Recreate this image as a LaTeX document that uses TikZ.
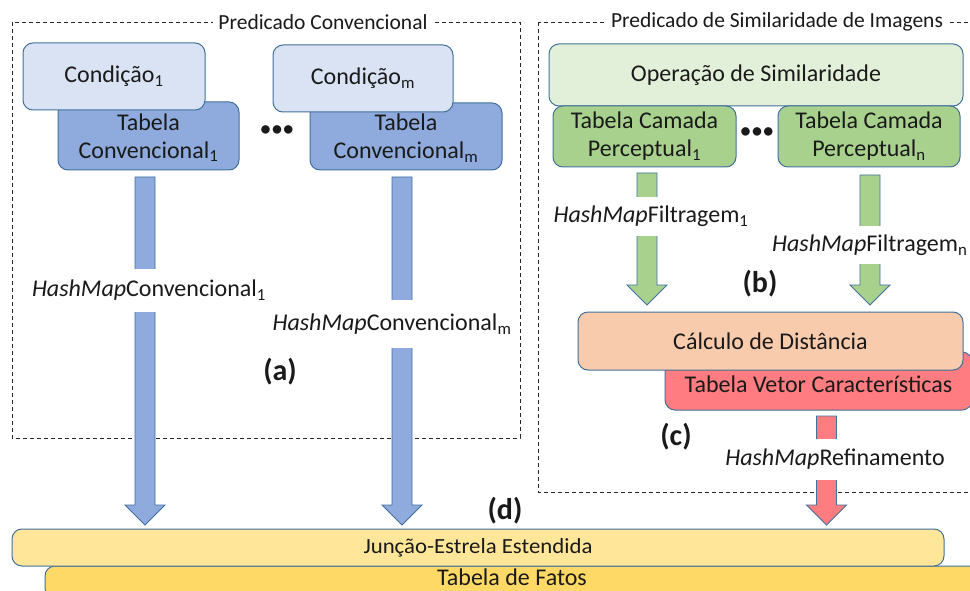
\documentclass[tikz,border=0pt]{standalone}
\usepackage{fontspec}
\setmainfont{Carlito}
\usetikzlibrary{calc}
\definecolor{bord}{HTML}{41719C}
\definecolor{condfill}{HTML}{DAE3F3}
\definecolor{tconvfill}{HTML}{8FAADC}
\definecolor{opfill}{HTML}{E2F0D9}
\definecolor{tcpfill}{HTML}{A9D18E}
\definecolor{calcfill}{HTML}{F8CBAD}
\definecolor{tvcfill}{HTML}{FF7C80}
\definecolor{junfill}{HTML}{FFE699}
\definecolor{fatfill}{HTML}{FFD966}
\definecolor{txt}{HTML}{1A1A1A}
\newcommand\mysub[1]{\textsubscript{#1}}
\newcommand\mydots{\textbullet\kern1.5pt\textbullet\kern1.5pt\textbullet}
\newcommand\blockarrow[3]{%
  \draw[arrowline, fill=#1] let \p1=(#2), \p2=(#3) in
  (\x1-10pt,\y1) -- (\x1-10pt,\y2+20pt) -- (\x1-20pt,\y2+20pt) -- (\x1,\y2)
  -- (\x1+20pt,\y2+20pt) -- (\x1+10pt,\y2+20pt) -- (\x1+10pt,\y1) -- cycle;}
\tikzset{
  box/.style={draw=bord, line width=1pt, rounded corners=10pt, align=center,
    inner sep=0pt, text=txt, font=\fontsize{24}{28}\selectfont},
  arrowline/.style={draw=bord, line width=0.9pt},
  dashbox/.style={draw=black!85, line width=0.9pt, dash pattern=on 4pt off 3pt},
  title/.style={fill=white, inner xsep=5pt, inner ysep=2pt, text=txt,
    font=\fontsize{21.5}{24}\selectfont},
  hlabel/.style={fill=white, inner xsep=1pt, inner ysep=0pt, text=txt,
    font=\fontsize{24}{28}\selectfont},
  tag/.style={text=txt, font=\fontsize{30}{34}\selectfont\bfseries},
  dots/.style={text=txt, font=\fontsize{20}{24}\selectfont\bfseries}
}
\begin{document}
\begin{tikzpicture}[x=1pt,y=-1pt]
\useasboundingbox (0,0) rectangle (970,591);
\clip (0,0) rectangle (970,591);
\fill[white] (0,0) rectangle (970,591);

% dashed groups
\draw[dashbox] (12,22) rectangle (520,438);
\draw[dashbox] (538,22) rectangle (990,492);
\node[title] (t1) at (323,22) {Predicado Convencional};
\node[title] (t2) at (777,22) {Predicado de Similaridade de Imagens};

% conventional predicate
\node[box, fill=tconvfill, minimum width=181, minimum height=68] (tc1) at (148.5,136)
  {\\[-8pt]Tabela\\Convencional\mysub{1}};
\node[box, fill=condfill, minimum width=182, minimum height=67] (c1) at (114,76.5) {Condição\mysub{1}};
\node[box, fill=tconvfill, minimum width=192, minimum height=67] (tcm) at (406,136.5)
  {\\[-8pt]Tabela\\Convencional\mysub{m}};
\node[box, fill=condfill, minimum width=180, minimum height=67] (cm) at (363,78.5) {Condição\mysub{m}};
\node[dots] (d1) at (277,131) {\mydots};

% image similarity predicate
\node[box, fill=opfill, minimum width=414, minimum height=62] (op) at (756,75) {Operação de Similaridade};
\node[box, fill=tcpfill, minimum width=183, minimum height=61] (tcp1) at (644.5,136.5)
  {Tabela Camada\\Perceptual\mysub{1}};
\node[box, fill=tcpfill, minimum width=182, minimum height=61] (tcpn) at (869,136.5)
  {Tabela Camada\\Perceptual\mysub{n}};
\node[dots] (d2) at (757,133) {\mydots};

\node[box, fill=tvcfill, minimum width=307, minimum height=58] (tvc) at (818.5,381)
  {\\[-4pt]Tabela Vetor Características};
\node[box, fill=calcfill, minimum width=385, minimum height=58] (calc) at (770.5,341) {Cálculo de Distância};

% star join
\node[box, fill=fatfill, minimum width=934, minimum height=32] (fat) at (512,582) {};
\node[text=txt, font=\fontsize{24}{28}\selectfont] (fatt) at (512,577.5) {Tabela de Fatos};
\node[box, fill=junfill, minimum width=932, minimum height=37] (jun) at (478,547.5)
  {\scalebox{0.95}[0.9]{Junção-Estrela Estendida}};

% arrow end points
\coordinate (b1s) at (145,177);
\coordinate (b1e) at (145,525);
\coordinate (bms) at (402,177);
\coordinate (bme) at (402,525);
\coordinate (g1s) at (647,173);
\coordinate (g1e) at (647,305);
\coordinate (gns) at (870,175);
\coordinate (gne) at (870,305);
\coordinate (rs) at (826.5,416);
\coordinate (re) at (826.5,525);

\blockarrow{tconvfill}{b1s}{b1e}
\blockarrow{tconvfill}{bms}{bme}
\blockarrow{tcpfill}{g1s}{g1e}
\blockarrow{tcpfill}{gns}{gne}
\blockarrow{tvcfill}{rs}{re}

% arrow labels
\node[hlabel, minimum height=43] (l1) at (149,290.5) {\textit{HashMap}Convencional\mysub{1}};
\node[hlabel, minimum height=48] (lm) at (392,324) {\textit{HashMap}Convencional\mysub{m}};
\node[hlabel, minimum height=39] (lf1) at (651,216.5) {\textit{HashMap}Filtragem\mysub{1}};
\node[hlabel, minimum height=38, anchor=west] (lfn) at (771,245) {\textit{HashMap}Filtragem\mysub{n}};
\node[hlabel, minimum height=41] (lr) at (835,459.5) {\textit{HashMap}Refinamento};

% tags
\node[tag] (ta) at (280,372) {(a)};
\node[tag] (tb) at (760,284) {(b)};
\node[tag] (tcc) at (676,437) {(c)};
\node[tag] (td) at (505,511) {(d)};
\end{tikzpicture}
\end{document}
